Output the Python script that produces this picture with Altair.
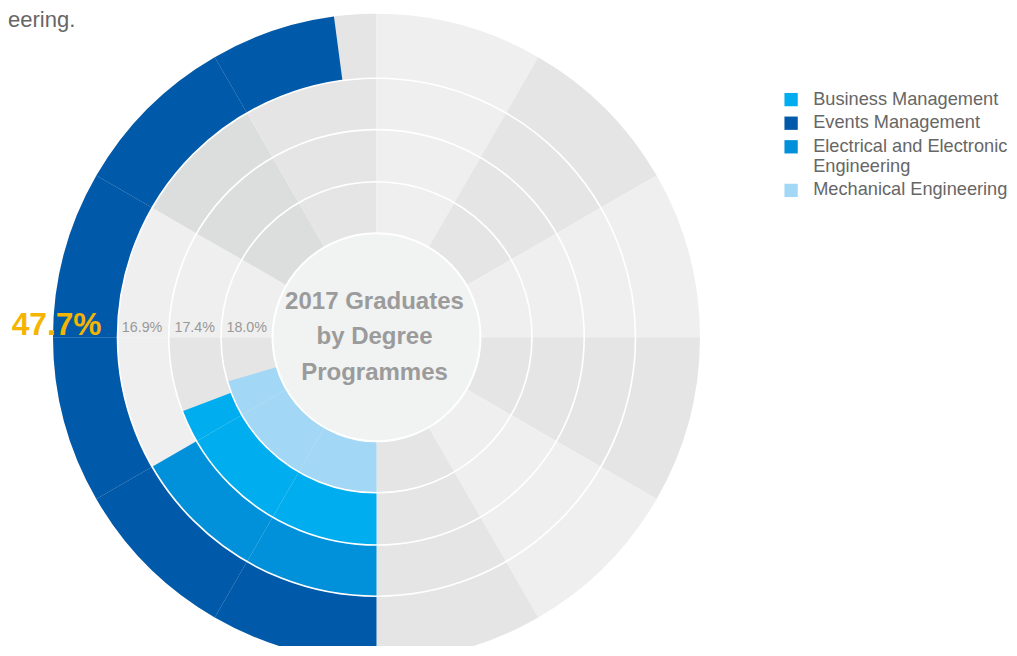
import math
import altair as alt
import pandas as pd

# ---------------- data ----------------
programmes = ["Mechanical Engineering", "Business Management",
              "Electrical and Electronic Engineering", "Events Management"]   # inner -> outer ring
share_labels = ["18.0%", "17.4%", "16.9%", "47.7%"]                          # printed labels
arc_extent = [20.4, 19.2, 16.67, 47.9]                                        # % of a full turn covered by each coloured arc
legend_order = ["Business Management", "Events Management",
                "Electrical and Electronic Engineering", "Mechanical Engineering"]
programme_colors = ["#00aeef", "#0059a9", "#0091da", "#a2d8f5"]
# background shade of the 12 sectors (clockwise from 12 o'clock), one string per ring
segment_shades = [
    "LDLDLDLDDLGD",
    "LDLDLDLDDLGD",
    "LDLDLDLDLLGD",
    "LDLDLDLDDLGD",
]
shade_codes = ["L", "D", "G"]
shade_colors = ["#efefef", "#e5e5e5", "#dcdedd"]
center_title = ["2017 Graduates", "by Degree", "Programmes"]
heading_fragment = "eering."
legend_wrap = {"Electrical and Electronic Engineering": ["Electrical and Electronic", "Engineering"]}

# ---------------- layout ----------------
W, H = 1000, 638
CX, CY = 368.5, 329.3
RING_EDGES = [104, 155.5, 207.7, 259, 323.5]
N_SEG = 12
STEP = 100 / N_SEG
LABEL_AT = 25            # share units from the bottom -> 9 o'clock
LABEL_PAD = [5.5, 6, 6.5, 16]

theta_scale = alt.Scale(domain=[0, 100], range=[math.pi, 3 * math.pi])

bg_rows, fg_rows, lab_rows = [], [], []
for i, prog in enumerate(programmes):
    r0, r1 = RING_EDGES[i], RING_EDGES[i + 1]
    for j in range(N_SEG):
        k = (j + N_SEG // 2) % N_SEG
        bg_rows.append(dict(ring=i, start=j * STEP, end=(j + 1) * STEP, r0=r0, r1=r1,
                            shade=segment_shades[i][k]))
    v = arc_extent[i]
    j = 0
    while j * STEP < v:
        fg_rows.append(dict(programme=prog, start=j * STEP, end=min((j + 1) * STEP, v), r0=r0, r1=r1))
        j += 1
    lab_rows.append(dict(programme=prog, label=share_labels[i], at=LABEL_AT,
                         r=r0 + LABEL_PAD[i], outer=(i == len(programmes) - 1)))

bg = pd.DataFrame(bg_rows)
fg = pd.DataFrame(fg_rows)
labs = pd.DataFrame(lab_rows)
one = pd.DataFrame({"a": [0]})
circles = pd.DataFrame({"r": RING_EDGES[1:4], "s": 0, "e": 100})

pos = dict(x=alt.value(CX), y=alt.value(CY))

background = alt.Chart(bg).mark_arc(stroke=None).encode(
    theta=alt.Theta("start:Q", scale=theta_scale, stack=None),
    theta2="end:Q",
    radius=alt.Radius("r1:Q", scale=None),
    radius2="r0:Q",
    fill=alt.Fill("shade:N", scale=alt.Scale(domain=shade_codes, range=shade_colors), legend=None),
    **pos,
)

wrap_expr = " : ".join(
    [f"datum.label == '{k}' ? {v!r}" for k, v in legend_wrap.items()] + ["datum.label"]
)

coloured = alt.Chart(fg).mark_arc(stroke=None).encode(
    theta=alt.Theta("start:Q", scale=theta_scale, stack=None),
    theta2="end:Q",
    radius=alt.Radius("r1:Q", scale=None),
    radius2="r0:Q",
    color=alt.Color(
        "programme:N",
        scale=alt.Scale(domain=legend_order, range=programme_colors),
        legend=alt.Legend(
            title=None, orient="none", legendX=774, legendY=82.5,
            symbolType="square", symbolSize=177, symbolStrokeWidth=0,
            labelFont="Liberation Sans", labelFontSize=18.2, labelColor="#666666",
            labelLimit=400, labelOffset=13, rowPadding=4.6, padding=0,
            labelExpr=wrap_expr,
        ),
    ),
    **pos,
)

center = alt.Chart(one).mark_arc(fill="#f1f2f2", stroke="white", strokeWidth=2).encode(
    theta=alt.Theta(datum=0, scale=theta_scale),
    theta2=alt.Theta2(datum=100),
    radius=alt.value(RING_EDGES[0]),
    **pos,
)

separators = alt.Chart(circles).mark_arc(filled=False, stroke="white", strokeWidth=1.6).encode(
    theta=alt.Theta("s:Q", scale=theta_scale, stack=None),
    theta2="e:Q",
    radius=alt.Radius("r:Q", scale=None),
    **pos,
)

small_labels = alt.Chart(labs).transform_filter("!datum.outer").mark_text(
    align="right", baseline="alphabetic", dy=-5.5, font="Liberation Sans",
    fontSize=14.3, color="#999999",
).encode(
    theta=alt.Theta("at:Q", scale=theta_scale, stack=None),
    radius=alt.Radius("r:Q", scale=None),
    text="label:N",
    **pos,
)

big_label = alt.Chart(labs).transform_filter("datum.outer").mark_text(
    align="right", baseline="alphabetic", dy=-2.3, font="Liberation Sans",
    fontSize=31.7, fontWeight="bold", color="#f5b400",
).encode(
    theta=alt.Theta("at:Q", scale=theta_scale, stack=None),
    radius=alt.Radius("r:Q", scale=None),
    text="label:N",
    **pos,
)

title_text = alt.Chart(one).mark_text(
    text=center_title, align="center", baseline="alphabetic", dx=-2, dy=-28.5,
    lineHeight=35.5, font="Liberation Sans", fontSize=24, fontWeight="bold", color="#9b9b9b",
).encode(**pos)

heading = alt.Chart(one).mark_text(
    text=heading_fragment, align="left", baseline="alphabetic",
    font="Liberation Sans", fontSize=22, color="#666666",
).encode(x=alt.value(0), y=alt.value(19))

chart = alt.layer(
    background, coloured, center, separators, small_labels, big_label, title_text, heading
).properties(
    width=W, height=H, padding=0, autosize=alt.AutoSizeParams(type="none"),
    background="white",
).configure_view(stroke=None)

chart.save("out.html", embed_options={"renderer": "svg", "actions": False})
